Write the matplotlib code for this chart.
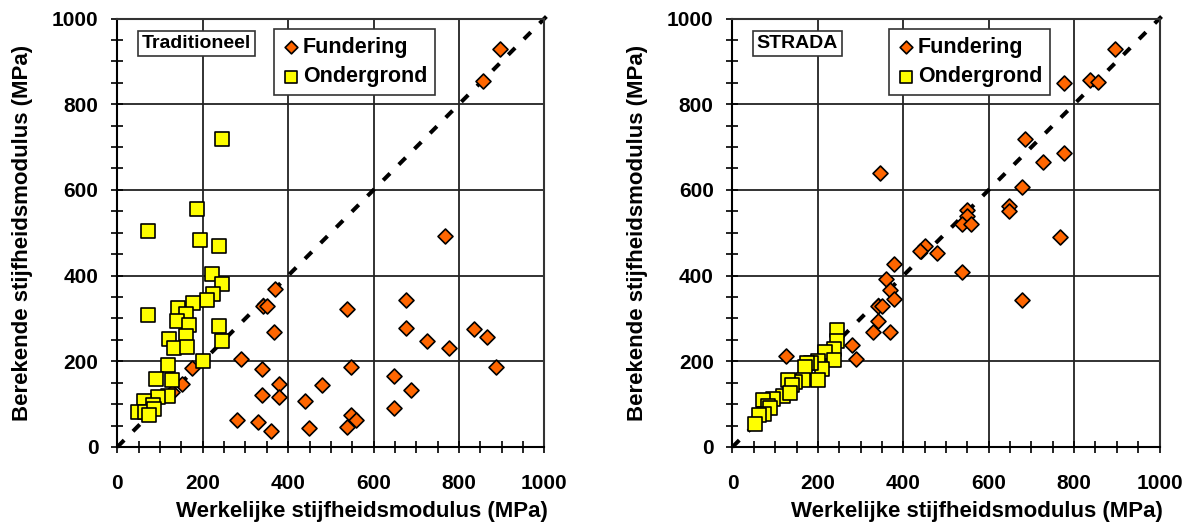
import numpy as np
import matplotlib
matplotlib.use('Agg')
import matplotlib.pyplot as plt
from matplotlib.ticker import MultipleLocator

plt.rcParams['font.family'] = ['Liberation Sans', 'DejaVu Sans']
plt.rcParams['font.weight'] = 'bold'

# ---------- Traditioneel ----------
trad_fund_x = [896, 856, 767, 370, 340, 350, 368, 538, 677, 677, 726, 777, 836, 866, 886,
               548, 289, 338, 174, 151, 379, 379, 339, 480, 440, 280, 329, 359, 449, 648,
               687, 648, 548, 560, 538, 127]
trad_fund_y = [930, 854, 493, 368, 328, 330, 268, 323, 343, 277, 247, 230, 276, 256, 187,
               187, 205, 183, 185, 147, 148, 116, 121, 144, 107, 64, 59, 38, 45, 166,
               133, 90, 74, 64, 46, 128]
trad_ond_x = [244, 187, 73, 194, 238, 221, 245, 223, 209, 178, 143, 161, 73, 140, 169,
              237, 161, 120, 245, 133, 164, 200, 119, 91, 129, 118, 96, 63, 84, 49,
              65, 87, 74]
trad_ond_y = [718, 555, 505, 484, 470, 403, 381, 358, 344, 335, 324, 311, 309, 294, 284,
              282, 259, 251, 247, 230, 233, 200, 191, 158, 157, 119, 116, 107, 98, 82,
              81, 88, 75]

# ---------- STRADA ----------
str_fund_x = [896, 836, 857, 777, 686, 777, 727, 678, 648, 648, 767, 548, 548, 537, 559,
              450, 438, 479, 537, 678, 379, 360, 370, 379, 340, 351, 340, 329, 370, 280,
              290, 125, 345]
str_fund_y = [929, 857, 851, 849, 719, 687, 664, 607, 563, 551, 491, 553, 540, 520, 520,
              470, 458, 453, 408, 342, 426, 391, 367, 346, 328, 328, 293, 268, 268, 237,
              205, 213, 640]
str_ond_x = [244, 245, 238, 216, 237, 201, 210, 184, 174, 170, 201, 166, 146, 131, 139,
             119, 134, 96, 72, 84, 88, 74, 62, 52]
str_ond_y = [272, 247, 229, 221, 204, 200, 183, 195, 195, 186, 156, 157, 152, 156, 145,
             119, 125, 113, 109, 95, 90, 76, 75, 53]

panels = [
    ('Traditioneel', trad_fund_x, trad_fund_y, trad_ond_x, trad_ond_y),
    ('STRADA', str_fund_x, str_fund_y, str_ond_x, str_ond_y),
]

fig = plt.figure(figsize=(11.91, 5.26), dpi=100)
lefts = [0.0985, 0.615]

for (name, fx, fy, ox, oy), left in zip(panels, lefts):
    ax = fig.add_axes([left, 0.1502, 0.3586, 0.8146])
    ax.set_xlim(0, 1000)
    ax.set_ylim(0, 1000)

    ax.xaxis.set_major_locator(MultipleLocator(200))
    ax.yaxis.set_major_locator(MultipleLocator(200))
    ax.xaxis.set_minor_locator(MultipleLocator(50))
    ax.yaxis.set_minor_locator(MultipleLocator(50))
    ax.tick_params(which='both', direction='inout', length=9, width=1.2, color='black')
    ax.tick_params(axis='x', which='major', labelsize=15, pad=15)
    ax.tick_params(axis='y', which='major', labelsize=15, pad=9)
    for lab in ax.get_xticklabels() + ax.get_yticklabels():
        lab.set_fontweight('bold')

    ax.grid(True, which='major', color='#222222', linewidth=1.3)
    ax.set_axisbelow(True)
    for sp in ax.spines.values():
        sp.set_linewidth(1.5)
        sp.set_color('#333333')
    ax.spines['left'].set_color('black')
    ax.spines['bottom'].set_color('black')

    ax.plot([0, 1015], [0, 1015], color='black', linestyle=(0, (2.4, 3.1)),
            linewidth=2.9, clip_on=False, zorder=2)

    ax.scatter(fx, fy, marker='D', s=58, facecolor='#FF6600', edgecolor='black',
               linewidth=1.2, zorder=3, label='Fundering')
    ax.scatter(ox, oy, marker='s', s=95, facecolor='#FFFF00', edgecolor='black',
               linewidth=1.2, zorder=4, label='Ondergrond')

    leg = ax.legend(loc='upper left', bbox_to_anchor=(0.366, 0.975), fancybox=False,
                    framealpha=1, edgecolor='#333333', prop={'weight': 'bold', 'size': 15.5},
                    handletextpad=0.1, borderpad=0.35, labelspacing=0.4,
                    handlelength=0.9, borderaxespad=0, markerscale=0.85)
    leg.get_frame().set_linewidth(1.2)

    ax.text(0.057, 0.942, name, transform=ax.transAxes, fontsize=14, fontweight='bold',
            ha='left', va='center', zorder=6,
            bbox=dict(boxstyle='square,pad=0.2', facecolor='white', edgecolor='#333333',
                      linewidth=1.2))

    ax.set_xlabel('Werkelijke stijfheidsmodulus (MPa)', fontsize=16, fontweight='bold')
    ax.xaxis.set_label_coords(0.572, -0.126)
    ax.set_ylabel('Berekende stijfheidsmodulus (MPa)', fontsize=16, fontweight='bold')
    ax.yaxis.set_label_coords(-0.197, 0.5)

fig.savefig('out.png', dpi=100)
